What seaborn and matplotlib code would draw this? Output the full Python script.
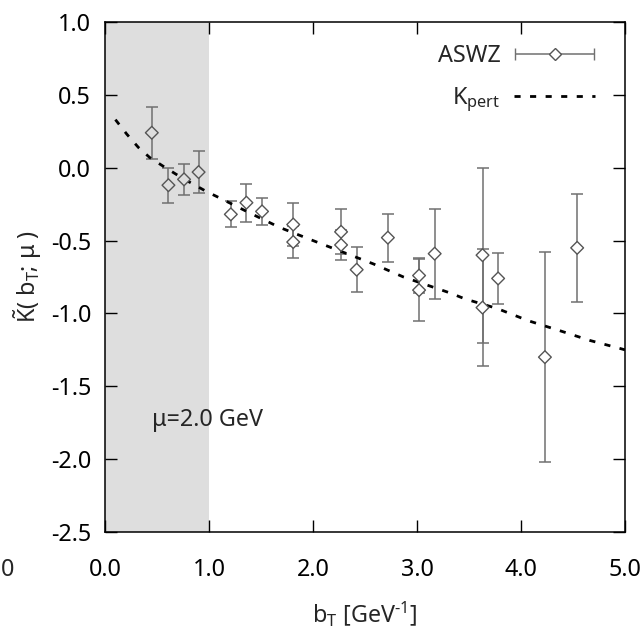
import numpy as np
import pandas as pd
import matplotlib
matplotlib.use("Agg")
import matplotlib.pyplot as plt
import seaborn as sns
from matplotlib.container import ErrorbarContainer
from matplotlib.legend_handler import HandlerErrorbar
from matplotlib.lines import Line2D

# ---- data ----
bT = [0.45, 0.61, 0.76, 0.90, 1.21, 1.36, 1.51, 1.81, 1.81, 2.27, 2.27,
      2.42, 2.72, 3.02, 3.02, 3.17, 3.63, 3.63, 3.78, 4.23, 4.54]
K = [0.24, -0.12, -0.08, -0.03, -0.32, -0.24, -0.30, -0.39, -0.51, -0.44, -0.53,
     -0.70, -0.48, -0.74, -0.84, -0.59, -0.60, -0.96, -0.76, -1.30, -0.55]
K_err = [0.18, 0.12, 0.105, 0.145, 0.09, 0.13, 0.09, 0.145, 0.11, 0.155, 0.10,
         0.155, 0.165, 0.12, 0.215, 0.31, 0.60, 0.40, 0.175, 0.72, 0.37]

b_pert = [0.10, 0.21, 0.32, 0.43, 0.56, 0.74, 0.98, 1.11, 1.39, 1.68, 2.00,
          2.58, 2.87, 3.32, 3.46, 3.77, 4.07, 4.38, 4.66, 4.95, 5.00]
K_pert = [0.33, 0.23, 0.14, 0.07, 0.01, -0.07, -0.165, -0.21, -0.31, -0.41, -0.50,
          -0.66, -0.75, -0.86, -0.90, -0.966, -1.05, -1.12, -1.185, -1.24, -1.25]

x_ticks = [0, 1, 2, 3, 4, 5]
x_ticklabels = ["0.0", "1.0", "2.0", "3.0", "4.0", "5.0"]
y_ticks = [1.0, 0.5, 0.0, -0.5, -1.0, -1.5, -2.0, -2.5]
y_ticklabels = ["1.0", "0.5", "0.0", "-0.5", "-1.0", "-1.5", "-2.0", "-2.5"]
shade_range = (0.0, 1.0)
series_labels = ["ASWZ", r"K$_\mathregular{pert}$"]
annotation = "μ=2.0 GeV"

# ---- style ----
sns.set_theme(style="ticks")
plt.rcParams['font.family'] = ['Noto Sans', 'DejaVu Sans']
plt.rcParams['mathtext.fontset'] = 'custom'
plt.rcParams['mathtext.rm'] = 'Noto Sans'
plt.rcParams['mathtext.it'] = 'Noto Sans'
FS = 16.8
SHADE = '#dedede'
BAR = '#707070'
EDGE = '#555555'

fig = plt.figure(figsize=(6.41, 6.31), dpi=100)
ax = fig.add_axes([105 / 641, 1 - 532 / 631, 520 / 641, 510 / 631])

ax.axvspan(*shade_range, color=SHADE, lw=0, zorder=0)

df_pert = pd.DataFrame({"b": b_pert, "K": K_pert})
sns.lineplot(data=df_pert, x="b", y="K", ax=ax, color='black', lw=2.0,
             sort=False, zorder=3)
ax.lines[-1].set_linestyle((0, (2.2, 3.4)))

ax.errorbar(bT, K, yerr=K_err, fmt='none', ecolor=BAR, elinewidth=1.1,
            capsize=4.5, capthick=1.1, zorder=2)
df = pd.DataFrame({"b": bT, "K": K})
fcols = [SHADE if b < shade_range[1] else 'white' for b in bT]
sns.scatterplot(data=df, x="b", y="K", ax=ax, marker='D', s=42,
                facecolor=fcols, edgecolor=EDGE, linewidth=1.0, zorder=4)

ax.text(0.45, -1.73, annotation, fontsize=FS, va='center', ha='left')

ax.set_xlim(0, 5)
ax.set_ylim(-2.5, 1.0)
ax.set_xticks(x_ticks)
ax.set_xticklabels(x_ticklabels)
ax.set_yticks(y_ticks)
ax.set_yticklabels(y_ticklabels)
ax.tick_params(direction='in', length=8.5, width=1.0, top=True, right=True,
               labelsize=FS, colors='black')
ax.tick_params(axis='x', pad=19)
ax.tick_params(axis='y', pad=10)
for sp in ax.spines.values():
    sp.set_visible(True)
    sp.set_linewidth(1.1)
    sp.set_color('black')

ax.set_xlabel(r"b$_\mathregular{T}$ [GeV$^{\mathregular{\text{-}1}}$]", fontsize=FS, labelpad=12)
ax.set_ylabel(r"$\mathregular{\tilde{K}}$( b$_\mathregular{T}$; μ )", fontsize=FS, labelpad=5)

# legend proxies
eb_proxy = ax.errorbar([np.nan], [np.nan], xerr=[1.0], fmt='D', ms=6.3,
                       mfc='white', mec=EDGE, mew=1.0, ecolor=BAR,
                       elinewidth=1.1, capsize=4.5, capthick=1.1)
line_proxy = Line2D([], [], color='black', lw=2.0, linestyle=(0, (2.2, 3.4)))
ax.legend(handles=[eb_proxy, line_proxy], labels=series_labels,
          loc='upper right', bbox_to_anchor=(0.942, 0.957), markerfirst=False,
          frameon=False, fontsize=FS, handlelength=3.45, handletextpad=0.6,
          labelspacing=0.75, borderpad=0, borderaxespad=0, numpoints=1,
          handler_map={ErrorbarContainer: HandlerErrorbar(xerr_size=1.7)})

fig.text(1 / 641, 1 - 570 / 631, "0", fontsize=FS, va='center', ha='left')

fig.savefig("out.png", dpi=100)
